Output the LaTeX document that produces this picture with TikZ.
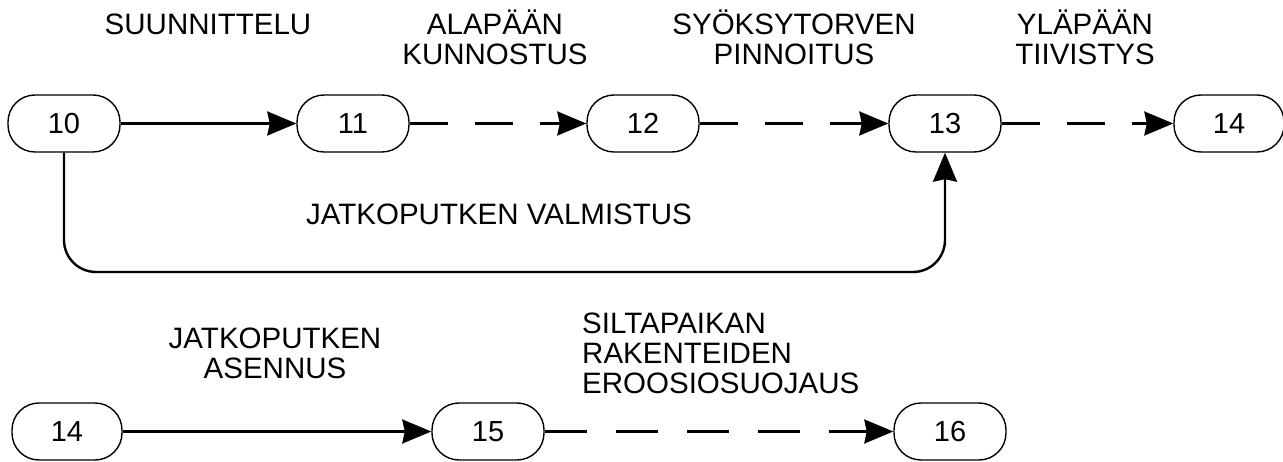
\documentclass[tikz,border=0pt]{standalone}
\usepackage{fontspec}
\setmainfont{Liberation Sans}
\usetikzlibrary{arrows.meta}
\begin{document}
\begin{tikzpicture}[x=1pt,y=-1pt,
  ev/.style={draw, line width=1.4pt, rounded corners=27pt, minimum width=112pt,
    minimum height=57pt, inner sep=0pt, font=\fontsize{29}{30}\selectfont},
  lbl/.style={font=\fontsize{29.5}{30}\selectfont, align=center, inner sep=0pt, anchor=base},
  act/.style={line width=2.4pt, -{Stealth[length=29pt,width=24pt,inset=2.5pt]}},
  dact/.style={act, dash pattern=on 38pt off 27pt},
]
\useasboundingbox (0,0) rectangle (1283,462);
% row 1
\node[ev] (n10) at (64,123.5) {10};
\node[ev] (n11) at (353,123.5) {11};
\node[ev] (n12) at (643,123.5) {12};
\node[ev] (n13) at (945,123.5) {13};
\node[ev, minimum width=110pt] (n14) at (1229,123.5) {14};
% row 2
\node[ev, minimum width=110pt] (m14) at (67,431.5) {14};
\node[ev] (m15) at (488,431.5) {15};
\node[ev] (m16) at (950,431.5) {16};
% connectors
\draw[act] (n10) -- (n11);
\draw[dact] (n11) -- (n12);
\draw[dact] (n12) -- (n13);
\draw[dact] (n13) -- (n14);
\draw[act, rounded corners=32pt] (n10.south) -- (n10.south |- 0,272) -- (n13.south |- 0,272) -- (n13.south);
\draw[act] (m14) -- (m15);
\draw[dact, dash pattern=on 42pt off 29pt] (m15) -- (m16);
% labels
\node[lbl] (l1) at (208,35) {SUUNNITTELU};
\node[lbl] (l2) at (495,65) {ALAPÄÄN\\KUNNOSTUS};
\node[lbl] (l3) at (794,65) {SYÖKSYTORVEN\\PINNOITUS};
\node[lbl] (l4) at (1085,65) {YLÄPÄÄN\\TIIVISTYS};
\node[lbl] (l5) at (499,225) {JATKOPUTKEN VALMISTUS};
\node[lbl] (l6) at (275,378) {JATKOPUTKEN\\ASENNUS};
\node[lbl, align=left, anchor=base west] (l7) at (582,393) {SILTAPAIKAN\\RAKENTEIDEN\\EROOSIOSUOJAUS};
\end{tikzpicture}
\end{document}
